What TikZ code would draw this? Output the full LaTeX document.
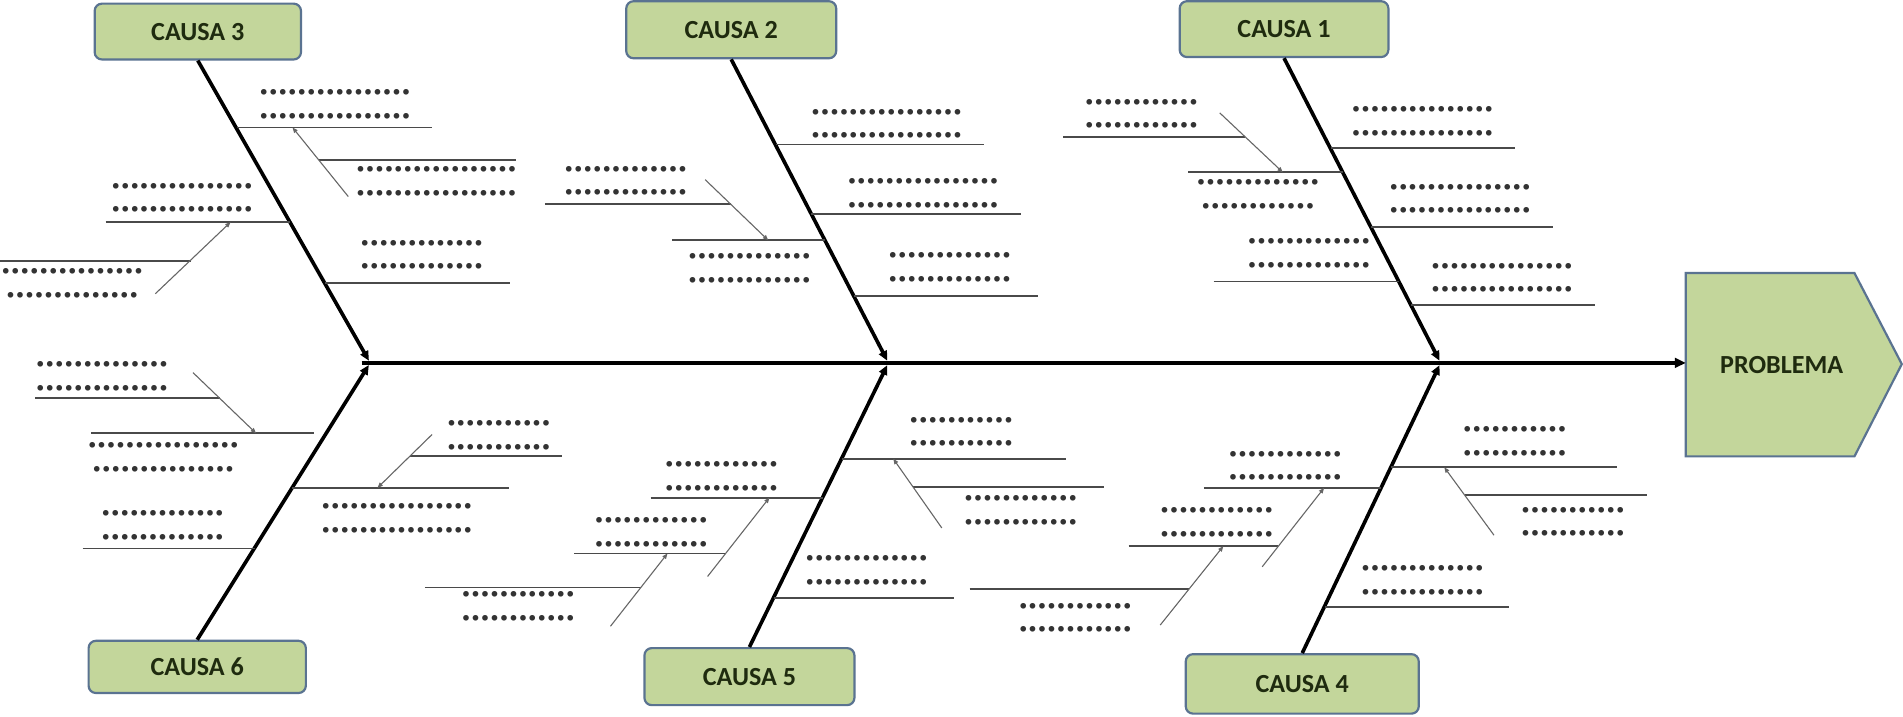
\documentclass[tikz,border=0pt]{standalone}
\usepackage{fontspec}
\newfontfamily\labelfont{Carlito}
\newfontfamily\dotfont{DejaVu Sans}
\usetikzlibrary{arrows.meta}
% a row of evenly spaced bullets used as placeholder text
\ExplSyntaxOn
\NewDocumentCommand\dotrun{m}{\prg_replicate:nn{#1}{\makebox[7.8pt]{•}}}
\ExplSyntaxOff
\definecolor{boxfill}{HTML}{C3D69B}
\definecolor{boxline}{HTML}{5A7391}
\definecolor{boxtext}{HTML}{1F2B0F}
\definecolor{ribgray}{HTML}{4A4A4A}
\definecolor{subgray}{HTML}{666666}

\begin{document}
\begin{tikzpicture}[x=1pt,y=-1pt,
  causebox/.style={draw=boxline, line width=1.8pt, fill=boxfill, rounded corners=6pt,
    inner sep=0pt, font=\labelfont\bfseries\fontsize{21.5}{24}\selectfont, text=boxtext},
  spine/.style={line width=3pt, -{Triangle[length=8pt,width=7pt]}, shorten >=2pt},
  axis/.style={line width=3.2pt, -{Triangle[length=9pt,width=8pt]}},
  rib/.style={line width=1.5pt, draw=ribgray},
  sub/.style={line width=0.9pt, draw=subgray, -{Triangle[length=4.5pt,width=3.5pt]}},
  dots/.style={font=\dotfont\fontsize{16}{19.5}\selectfont, inner sep=0pt, align=center,
    text=black!80, yshift=-1.7pt}]

% canvas
\fill[white] (0,0) rectangle (1568,590);
\useasboundingbox (0,0) rectangle (1568,590);

% problem head
\fill[boxfill, draw=boxline, line width=1.8pt]
  (1389,225) -- (1528,225) -- (1567,300) -- (1528,376) -- (1389,376) -- cycle;
\node[font=\labelfont\bfseries\fontsize{21.5}{24}\selectfont, text=boxtext] (prob) at (1468,301) {PROBLEMA};
\coordinate (probW) at (1389,299);

% cause boxes
\node[causebox, minimum width=170pt, minimum height=46pt] (c3) at (163,26) {CAUSA 3};
\node[causebox, minimum width=173pt, minimum height=47pt] (c2) at (602.5,24.5) {CAUSA 2};
\node[causebox, minimum width=172pt, minimum height=46pt] (c1) at (1058,24) {CAUSA 1};
\node[causebox, minimum width=179pt, minimum height=43pt] (c6) at (162.5,549.5) {CAUSA 6};
\node[causebox, minimum width=173pt, minimum height=47pt] (c5) at (617.5,557.5) {CAUSA 5};
\node[causebox, minimum width=192pt, minimum height=49pt] (c4) at (1073,563.5) {CAUSA 4};

% junctions on the backbone
\coordinate (ax0) at (298,299);
\coordinate (j3) at (305,299);
\coordinate (j2) at (732,299);
\coordinate (j1) at (1187,299);

% backbone and main bones
\draw[axis] (ax0) -- (probW);
\draw[spine] (c3.south) -- (j3);
\draw[spine] (c2.south) -- (j2);
\draw[spine] (c1.south) -- (j1);
\draw[spine] (c6.north) -- (j3);
\draw[spine] (c5.north) -- (j2);
\draw[spine] (c4.north) -- (j1);

% ---- cause 3 ----
\draw[rib] (195,105) -- (356,105);
\draw[rib] (87,183) -- (239,183);
\draw[rib] (268,233) -- (420,233);
\draw[rib] (263,132) -- (425,132);
\draw[rib] (0,215) -- (157,215);
\draw[sub] (287,162) -- (241,105);
\draw[sub] (128,242) -- (190,183);
\node[dots] (t3a) at (276,86) {\dotrun{16}\\\dotrun{16}};
\node[dots] (t3b) at (359.5,149.5) {\dotrun{17}\\\dotrun{17}};
\node[dots] (t3c) at (150,163) {\dotrun{15}\\\dotrun{15}};
\node[dots] (t3d) at (59.5,233.5) {\dotrun{15}\\\dotrun{14}};
\node[dots] (t3e) at (347.5,210) {\dotrun{13}\\\dotrun{13}};

% ---- cause 2 ----
\draw[rib] (639,119) -- (811,119);
\draw[rib] (668.5,176) -- (841,176);
\draw[rib] (554,198) -- (680,198);
\draw[rib] (703.6,244) -- (855,244);
\draw[rib] (449,168) -- (602,168);
\draw[sub] (581,148) -- (633,198);
\node[dots] (t2a) at (730.5,102) {\dotrun{16}\\\dotrun{16}};
\node[dots] (t2b) at (760.5,159.5) {\dotrun{16}\\\dotrun{16}};
\node[dots] (t2c) at (782.5,220.5) {\dotrun{13}\\\dotrun{13}};
\node[dots] (t2d) at (515.5,149) {\dotrun{13}\\\dotrun{13}};
\node[dots] (t2e) at (617.5,221) {\dotrun{13}\\\dotrun{13}};

% ---- cause 1 ----
\draw[rib] (1096.4,122) -- (1248,122);
\draw[rib] (1129.7,187) -- (1280,187);
\draw[rib] (1162.4,251) -- (1314,251);
\draw[rib] (979,142) -- (1106.6,142);
\draw[rib] (1000,232) -- (1152.7,232);
\draw[rib] (876,113) -- (1026,113);
\draw[sub] (1005,93) -- (1057,142);
\node[dots] (t1a) at (1172,100) {\dotrun{15}\\\dotrun{15}};
\node[dots] (t1b) at (1203,164) {\dotrun{15}\\\dotrun{15}};
\node[dots] (t1c) at (1237.5,229) {\dotrun{15}\\\dotrun{15}};
\node[dots] (t1d) at (940.5,94) {\dotrun{12}\\\dotrun{12}};
\node[dots] (t1e) at (1036.5,160) {\dotrun{13}\\\dotrun{12}};
\node[dots] (t1f) at (1078.5,209) {\dotrun{13}\\\dotrun{13}};

% ---- cause 6 ----
\draw[rib] (29,328) -- (181,328);
\draw[rib] (75,357) -- (259,357);
\draw[rib] (68,452) -- (210,452);
\draw[rib] (241,402) -- (419,402);
\draw[rib] (338,376) -- (463,376);
\draw[sub] (159,307) -- (211,357);
\draw[sub] (356,358) -- (311,402);
\node[dots] (t6a) at (84,310) {\dotrun{14}\\\dotrun{14}};
\node[dots] (t6b) at (134.5,377) {\dotrun{16}\\\dotrun{15}};
\node[dots] (t6c) at (134,433) {\dotrun{13}\\\dotrun{13}};
\node[dots] (t6d) at (327,427) {\dotrun{16}\\\dotrun{16}};
\node[dots] (t6e) at (411,358.5) {\dotrun{11}\\\dotrun{11}};

% ---- cause 5 ----
\draw[rib] (693.5,378) -- (878,378);
\draw[rib] (752,401) -- (910,401);
\draw[rib] (637.5,493) -- (786,493);
\draw[rib] (536,410) -- (678,410);
\draw[rib] (473,456) -- (598,456);
\draw[rib] (350,484) -- (528,484);
\draw[sub] (776,435) -- (736,378);
\draw[sub] (583,475) -- (634,410);
\draw[sub] (503,516) -- (550,456);
\node[dots] (t5a) at (792,356) {\dotrun{11}\\\dotrun{11}};
\node[dots] (t5b) at (841,420.5) {\dotrun{12}\\\dotrun{12}};
\node[dots] (t5c) at (714,470) {\dotrun{13}\\\dotrun{13}};
\node[dots] (t5d) at (594.5,392.5) {\dotrun{12}\\\dotrun{12}};
\node[dots] (t5e) at (536.5,438.5) {\dotrun{12}\\\dotrun{12}};
\node[dots] (t5f) at (427,499.5) {\dotrun{12}\\\dotrun{12}};

% ---- cause 4 ----
\draw[rib] (1146,385) -- (1332,385);
\draw[rib] (1207,408) -- (1357,408);
\draw[rib] (1091.5,500) -- (1243,500);
\draw[rib] (992,402) -- (1138,402);
\draw[rib] (930,450) -- (1053,450);
\draw[rib] (799,485) -- (980,485);
\draw[sub] (1231,441) -- (1190,385);
\draw[sub] (1040,467) -- (1091,402);
\draw[sub] (956,515) -- (1008,450);
\node[dots] (t4a) at (1248,363.5) {\dotrun{11}\\\dotrun{11}};
\node[dots] (t4b) at (1296,430) {\dotrun{11}\\\dotrun{11}};
\node[dots] (t4c) at (1172,478.5) {\dotrun{13}\\\dotrun{13}};
\node[dots] (t4d) at (1059,384) {\dotrun{12}\\\dotrun{12}};
\node[dots] (t4e) at (1002.5,430.5) {\dotrun{12}\\\dotrun{12}};
\node[dots] (t4f) at (886,509) {\dotrun{12}\\\dotrun{12}};

\end{tikzpicture}
\end{document}
